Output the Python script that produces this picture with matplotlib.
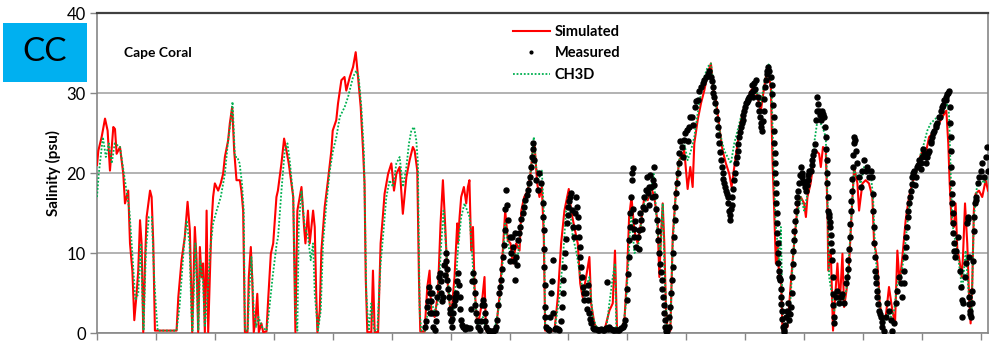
import matplotlib
matplotlib.use("Agg")
from matplotlib import pyplot as plt
from matplotlib.patches import Rectangle
import numpy as np

plt.rcParams["font.family"] = ["Lato", "DejaVu Sans"]

# time axis in years since start of record, salinity in psu
sim_t = [
    0.0, 0.023, 0.079, 0.136, 0.18, 0.22, 0.277, 0.305, 0.333, 0.39, 0.446, 0.475, 0.53, 0.56, 0.6,
    0.633, 0.672, 0.70, 0.73, 0.757, 0.785, 0.814, 0.842, 0.9, 0.927, 0.955, 0.983, 1.35, 1.38, 1.435,
    1.49, 1.537, 1.576, 1.616, 1.66, 1.69, 1.717, 1.746, 1.774, 1.8, 1.83, 1.86, 1.887, 1.94, 1.97,
    2.0, 2.056, 2.1, 2.14, 2.17, 2.226, 2.254, 2.294, 2.328, 2.367, 2.424, 2.45, 2.48, 2.51, 2.554,
    2.576, 2.61, 2.633, 2.66, 2.69, 2.72, 2.746, 2.79, 2.82, 2.876, 2.904, 2.95, 2.99, 3.045,
    3.07, 3.13, 3.175, 3.215, 3.254, 3.3, 3.33, 3.367, 3.4, 3.47, 3.514, 3.537, 3.58, 3.61, 3.667,
    3.695, 3.72, 3.74, 3.78, 3.808, 3.864, 3.92, 3.977, 4.0, 4.06, 4.09, 4.147, 4.2, 4.23, 4.29,
    4.345, 4.39, 4.43, 4.475, 4.515, 4.54, 4.56, 4.587, 4.655, 4.683, 4.712, 4.77, 4.813, 4.85, 4.88,
    4.94, 4.995, 5.04, 5.08, 5.136, 5.19, 5.25, 5.305, 5.36, 5.39, 5.435, 5.463, 5.486, 5.56, 5.605,
    5.644, 5.672, 5.73, 5.785, 5.83, 5.87, 5.91, 5.955, 6.01, 6.067, 6.113,
    6.124, 6.153, 6.18, 6.226, 6.266, 6.294, 6.32, 6.35, 6.38, 6.407, 6.45, 6.49, 6.53, 6.576, 6.6,
    6.69, 6.774, 6.83, 6.887, 6.927, 6.972, 7.017, 7.057, 7.113, 7.17, 7.2, 7.25, 7.31, 7.356, 7.395,
    7.424, 7.47, 7.508, 7.55, 7.582, 7.605, 7.763, 7.82, 7.876, 7.932, 8.006, 8.045, 8.1, 8.158, 8.2,
    8.24, 8.3, 8.356, 8.385, 8.44, 8.5, 8.61, 8.695, 8.752, 8.79, 8.825, 8.893, 8.95, 8.994, 9.03,
    9.07, 9.118, 9.175, 9.23, 9.288, 9.345, 9.4, 9.458, 9.514, 9.543, 9.57, 9.6, 9.627, 9.656, 9.684,
    9.73, 9.77, 9.825, 9.88, 9.966, 9.995, 10.023, 10.068, 10.108, 10.136, 10.193, 10.249, 10.305, 10.362, 10.418,
    10.463, 10.503, 10.56, 10.616, 10.672, 10.729, 10.768, 10.814, 10.87, 10.927, 10.983, 11.04, 11.096, 11.153, 11.21,
    11.266, 11.322, 11.379, 11.435, 11.463, 11.492, 11.52, 11.548, 11.576, 11.605, 11.633, 11.718, 11.774, 11.83, 11.886,
    11.943, 12.0, 12.03, 12.056, 12.11, 12.17, 12.198, 12.254, 12.283, 12.32, 12.367, 12.396, 12.41, 12.452, 12.49,
    12.526, 12.565, 12.605, 12.65, 12.678, 12.718, 12.763, 12.808, 12.848, 12.904, 12.932, 12.989, 13.045, 13.1, 13.158,
    13.187, 13.215, 13.243, 13.283, 13.328, 13.384, 13.44, 13.497, 13.542, 13.582, 13.62, 13.667, 13.723, 13.78, 13.836,
    13.893, 13.95, 14.006, 14.062, 14.12, 14.175, 14.232, 14.288, 14.345, 14.413, 14.446, 14.47, 14.503, 14.543, 14.57,
    14.6, 14.628, 14.673, 14.695, 14.73, 14.768, 14.797, 14.825, 14.853, 14.88, 14.91, 14.966, 15.022, 15.08, 15.12,
]
sim_v = [
    21.0, 22.8, 24.5, 26.8, 25.3, 20.3, 25.75, 25.5, 22.4, 23.25, 19.9, 16.2, 17.8, 11.2, 7.8,
    1.6, 4.9, 7.8, 14.1, 11.2, 0.1, 8.7, 14.5, 17.8, 17.0, 11.2, 0.3, 0.3, 4.5, 9.1,
    12.0, 16.4, 12.8, 0.1, 13.25, 9.1, 0.1, 10.75, 7.0, 8.7, 0.1, 15.3, 0.1, 13.25, 17.0,
    18.7, 17.8, 18.7, 19.9, 22.0, 24.1, 26.2, 28.25, 22.8, 19.1, 19.1, 17.8, 15.3, 0.1, 0.1,
    7.0, 10.75, 7.0, 0.1, 1.6, 4.9, 0.1, 1.2, 0.1, 0.2, 4.1, 9.9, 11.2, 17.0,
    17.8, 21.2, 24.3, 22.8, 21.2, 18.7, 17.0, 0.1, 15.3, 18.25, 13.25, 11.2, 15.3, 11.2, 15.3,
    13.25, 4.9, 0.1, 2.8, 10.3, 15.75, 19.1, 22.8, 25.3, 26.6, 28.7, 31.6, 32.0, 30.3, 32.0,
    33.25, 35.1, 32.0, 28.25, 22.8, 18.7, 7.0, 0.1, 0.1, 7.8, 0.1, 0.1, 11.2, 14.5, 17.4,
    19.9, 21.2, 17.8, 19.9, 20.75, 14.9, 19.5, 21.6, 23.25, 22.8, 20.3, 7.0, 0.2, 0.2, 5.75,
    7.8, 2.8, 2.0, 4.9, 13.7, 19.1, 13.25, 5.75, 2.0, 7.0, 13.7,
    11.2, 14.5, 17.0, 18.25, 16.2, 18.25, 19.1, 10.3, 13.25, 5.75, 1.2, 2.0, 3.7, 7.0, 0.3,
    0.2, 0.75, 4.5, 10.3, 15.3, 11.6, 11.2, 8.7, 11.2, 10.3, 15.3, 17.0, 17.8, 19.9, 22.8,
    23.7, 18.7, 17.0, 18.25, 12.0, 0.3, 0.3, 4.5, 11.2, 15.3, 18.0, 15.3, 13.25, 11.2, 6.2,
    4.5, 7.0, 9.5, 3.7, 1.2, 0.3, 0.3, 2.8, 3.7, 10.3, 0.3, 0.3, 1.6, 7.0, 14.5,
    17.0, 12.8, 11.2, 13.7, 17.0, 16.6, 18.25, 17.0, 13.7, 7.0, 12.0, 16.2, 11.2, 2.8, 0.3,
    0.3, 12.0, 17.8, 21.6, 22.8, 20.3, 18.0, 20.75, 18.25, 23.7, 26.6, 28.7, 30.3, 32.4, 33.7,
    30.3, 29.1, 25.75, 22.8, 21.2, 19.9, 18.25, 20.75, 23.7, 26.6, 28.25, 29.1, 30.3, 30.75, 29.5,
    27.8, 30.75, 33.25, 30.75, 21.6, 15.3, 8.7, 11.2, 7.0, 7.8, 0.3, 0.75, 6.2, 11.2, 15.75,
    17.0, 16.2, 14.5, 17.0, 18.7, 22.0, 22.8, 22.4, 20.75, 23.25, 22.8, 15.3, 7.8, 10.3, 0.3,
    4.5, 8.7, 3.7, 9.9, 3.25, 5.3, 8.7, 15.3, 20.75, 18.7, 15.3, 18.7, 19.1, 18.7, 17.0,
    11.2, 10.3, 8.7, 3.7, 1.6, 2.0, 5.75, 2.8, 1.2, 10.3, 6.2, 9.5, 14.1, 17.0, 18.7,
    19.9, 21.6, 22.8, 22.4, 24.5, 24.9, 25.3, 26.2, 27.0, 27.8, 23.7, 18.7, 13.7, 13.25, 16.2,
    10.3, 9.5, 7.0, 9.5, 16.2, 11.2, 4.9, 1.2, 6.2, 15.3, 17.4, 17.8, 17.0, 19.1, 17.8,
]

# measured record, first pass along the main trace
meas_t = [
    5.56, 5.599, 5.633, 5.656, 5.678, 5.7, 5.729, 5.757, 5.786, 5.814, 5.842, 5.87, 5.927, 5.944, 5.972,
    5.995, 6.017, 6.04, 6.068, 6.096, 6.125, 6.153, 6.18, 6.21, 6.266, 6.322, 6.379, 6.407, 6.435, 6.464,
    6.492, 6.548, 6.577, 6.605, 6.633, 6.69, 6.746, 6.786, 6.82, 6.848, 6.887, 6.916, 6.944, 6.972, 7.0,
    7.029, 7.057, 7.085, 7.113, 7.14, 7.181, 7.226, 7.271, 7.311, 7.351, 7.385, 7.407, 7.424, 7.452, 7.48,
    7.509, 7.537, 7.565, 7.582, 7.593, 7.605, 7.622, 7.678, 7.706, 7.735, 7.746, 7.791, 7.848, 7.887, 7.916,
    7.944, 7.972, 8.0, 8.029, 8.063, 8.085, 8.113, 8.142, 8.17, 8.193, 8.215, 8.243, 8.271, 8.3, 8.328,
    8.356, 8.385, 8.413, 8.469, 8.525, 8.582, 8.64, 8.656, 8.695, 8.752, 8.808, 8.865, 8.921, 8.966, 8.989,
    9.012, 9.034, 9.051, 9.074, 9.091, 9.119, 9.147, 9.176, 9.204, 9.232, 9.26, 9.288, 9.317, 9.345, 9.373,
    9.402, 9.43, 9.447, 9.47, 9.498, 9.526, 9.554, 9.582, 9.61, 9.627, 9.645, 9.673, 9.701, 9.729, 9.757,
    9.78, 9.803, 9.825, 9.854, 9.882, 9.927, 9.966, 10.006, 10.051, 10.096, 10.153, 10.192,
    10.221, 10.249, 10.277, 10.305, 10.334, 10.362, 10.39, 10.418, 10.447, 10.475, 10.503, 10.531, 10.56, 10.588, 10.616,
    10.644, 10.673, 10.701, 10.729, 10.746, 10.769, 10.803, 10.842, 10.87, 10.899, 10.927, 10.955, 10.983, 11.012, 11.04,
    11.068, 11.096, 11.125, 11.153, 11.181, 11.21, 11.238, 11.266, 11.283, 11.311, 11.334, 11.362, 11.379, 11.407, 11.435,
    11.463, 11.48, 11.492, 11.503, 11.515, 11.526, 11.537, 11.548, 11.56, 11.576, 11.593, 11.605, 11.622, 11.639, 11.661,
    11.69, 11.718, 11.746, 11.774, 11.797, 11.814, 11.83, 11.859, 11.887, 11.915, 11.944, 11.972, 12.0, 12.029, 12.057,
    12.085, 12.113, 12.141, 12.17, 12.198, 12.226, 12.254, 12.283, 12.311, 12.339, 12.367, 12.384, 12.396, 12.407, 12.424,
    12.441, 12.458, 12.48, 12.492, 12.503, 12.514, 12.537, 12.565, 12.593, 12.622, 12.65, 12.678, 12.706, 12.735, 12.752,
    12.774, 12.791, 12.808, 12.825, 12.842, 12.865, 12.887, 12.904, 12.932, 12.96, 12.989, 13.017, 13.045, 13.074, 13.102,
    13.13, 13.158, 13.17, 13.187, 13.204, 13.226, 13.243, 13.271, 13.3, 13.328, 13.356, 13.384, 13.413, 13.441, 13.469,
    13.497, 13.526, 13.554, 13.582, 13.61, 13.639, 13.667, 13.695, 13.712, 13.735, 13.757, 13.78, 13.808, 13.836, 13.865,
    13.893, 13.921, 13.949, 13.978, 14.006, 14.034, 14.062, 14.09, 14.119, 14.147, 14.175, 14.204, 14.232, 14.26, 14.288,
    14.316, 14.345, 14.373, 14.401, 14.43, 14.458, 14.48, 14.492, 14.503, 14.514, 14.525, 14.542, 14.56, 14.582, 14.616,
    14.639, 14.656, 14.673, 14.684, 14.7, 14.729, 14.752, 14.768, 14.785, 14.797, 14.814, 14.831, 14.853, 14.876, 14.898,
    14.921, 14.944, 14.966, 14.994, 15.023, 15.051, 15.079, 15.096, 15.119,
]
meas_v = [
    0.8, 3.3, 5.8, 2.5, 5.0, 0.8, 0.4, 2.5, 5.8, 7.5, 5.0, 4.5, 10.0, 6.6, 4.5,
    2.5, 0.8, 2.5, 4.1, 5.0, 7.5, 4.5, 1.6, 0.8, 0.8, 0.6, 7.5, 5.0, 2.5, 0.8,
    0.4, 4.1, 2.5, 0.8, 0.4, 0.2, 0.4, 1.6, 5.0, 6.6, 9.5, 12.9, 17.9, 14.1, 12.0,
    10.0, 10.8, 6.6, 9.5, 11.6, 13.3, 15.0, 16.6, 17.9, 19.5, 22.0, 23.7, 21.6, 19.1, 17.9,
    20.0, 18.7, 16.2, 12.9, 8.3, 3.3, 0.8, 0.4, 5.0, 9.1, 2.5, 0.6, 0.4, 3.3, 6.6,
    10.0, 13.7, 15.8, 17.0, 15.4, 13.3, 15.0, 15.8, 13.3, 10.8, 8.3, 5.8, 4.1, 5.0, 4.1,
    2.5, 1.2, 0.6, 0.5, 0.4, 0.4, 0.6, 6.4, 0.8, 0.4, 0.4, 0.4, 0.8, 1.6, 4.1,
    7.4, 11.6, 15.0, 19.1, 20.6, 12.0, 10.8, 12.0, 12.9, 14.1, 15.8, 17.0, 17.9, 17.5, 18.3,
    18.3, 19.1, 20.8, 17.1, 14.1, 11.6, 8.6, 6.6, 4.5, 2.5, 0.8, 0.2, 0.8, 3.3, 6.6,
    10.0, 14.1, 17.5, 20.0, 22.5, 23.3, 24.1, 25.4, 25.8, 27.0, 28.3, 29.1,
    30.3, 30.75, 31.2, 31.6, 32.0, 32.4, 32.8, 32.0, 30.75, 29.5, 27.8, 25.75, 23.7, 21.6, 20.0,
    18.7, 17.8, 17.0, 15.3, 14.1, 17.0, 19.1, 21.2, 22.8, 24.5, 25.75, 26.6, 27.8, 28.7, 29.1,
    29.5, 30.0, 30.3, 31.2, 31.6, 29.5, 27.8, 26.2, 25.3, 27.8, 30.75, 32.4, 33.25, 32.8, 32.0,
    29.9, 27.0, 23.7, 21.2, 18.7, 16.2, 13.7, 11.2, 8.7, 7.0, 6.6, 4.5, 2.8, 0.75, 0.1,
    2.0, 3.7, 1.6, 3.25, 7.0, 10.3, 12.8, 15.3, 17.0, 18.7, 20.75, 19.5, 18.7, 17.8, 19.1,
    20.3, 20.3, 21.6, 22.8, 26.6, 29.5, 27.8, 26.6, 27.8, 27.0, 24.5, 21.6, 18.7, 15.3, 14.5,
    13.25, 11.2, 9.1, 4.9, 2.0, 1.2, 4.5, 5.3, 3.7, 4.5, 4.9, 3.7, 6.2, 7.0, 9.1,
    12.0, 15.3, 17.8, 20.75, 23.7, 24.1, 22.8, 21.2, 19.5, 18.25, 20.3, 21.6, 20.3, 20.75, 19.5,
    20.3, 19.5, 15.3, 11.2, 7.8, 6.2, 4.5, 2.8, 2.0, 0.75, 0.3, 2.0, 3.7, 2.8, 1.6,
    0.3, 1.2, 3.7, 5.3, 7.0, 6.2, 4.5, 6.2, 9.5, 12.0, 14.5, 16.2, 17.8, 19.5, 20.3,
    19.5, 20.75, 21.6, 21.2, 22.0, 22.4, 21.2, 22.0, 22.8, 23.7, 24.5, 25.3, 25.75, 26.2, 27.0,
    27.8, 28.25, 29.1, 29.1, 29.9, 30.3, 26.2, 22.8, 18.7, 16.2, 13.7, 11.2, 9.5, 10.3, 12.0,
    7.8, 5.75, 4.1, 2.0, 3.7, 7.0, 8.7, 13.7, 14.5, 4.5, 2.8, 2.0, 5.3, 12.8, 16.2,
    17.0, 18.7, 19.5, 20.3, 21.2, 19.5, 22.0, 23.25, 20.3,
]

# measured record, second pass: scatter around the trace and steep limbs
meas_t2 = [
    5.59, 5.62, 5.645, 5.665, 5.69, 5.745, 5.77, 5.8, 5.83, 5.855, 5.885, 5.9, 5.915, 5.935, 5.958,
    5.985, 6.005, 6.03, 6.055, 6.082, 6.11, 6.14, 6.165, 6.195, 6.24, 6.29, 6.35, 6.365, 6.392, 6.42,
    6.45, 6.52, 6.535, 6.562, 6.59, 6.66, 6.72, 6.77, 6.8, 6.835, 6.868, 6.9, 6.93, 6.958,
    7.01, 7.04, 7.07, 7.1, 7.13, 7.16, 7.2, 7.25, 7.29, 7.33, 7.37, 7.397,
    7.575, 7.588, 7.598, 7.61, 7.65, 7.69, 7.72, 7.765, 7.82, 7.87, 7.9, 7.93, 7.958, 7.986, 8.015,
    8.05, 8.1, 8.13, 8.155, 8.18, 8.204, 8.23, 8.26, 8.31, 8.34, 8.37,
    8.44, 8.5, 8.55, 8.61, 8.67, 8.72, 8.78, 8.84, 8.89, 8.94,
    9.0, 9.022, 9.043, 9.062, 9.082, 9.1, 9.11, 9.13, 9.19, 9.22, 9.25, 9.3, 9.33, 9.36, 9.39,
    9.42, 9.46, 9.484, 9.512, 9.54, 9.568, 9.596, 9.618, 9.636, 9.66, 9.715, 9.743, 9.77, 9.79, 9.814,
    9.84, 9.868, 9.9, 9.95, 9.98, 10.03, 10.07, 10.12, 10.17,
    10.433, 10.461, 10.489, 10.517, 10.545, 10.574, 10.602, 10.63, 10.658, 10.687, 10.715, 10.738, 10.757, 10.78,
    10.786, 10.82, 10.856, 10.884, 10.913, 10.94, 10.97, 10.998, 11.026, 11.054, 11.11, 11.14, 11.17,
    11.224, 11.252, 11.275, 11.297, 11.322, 11.348, 11.37,
    11.449, 11.471, 11.486, 11.498, 11.509, 11.52, 11.531, 11.543, 11.554, 11.568, 11.585, 11.6, 11.614, 11.63, 11.65,
    11.675, 11.704, 11.732, 11.76, 11.786, 11.806, 11.822, 11.845, 11.873, 11.9, 11.93, 11.958, 11.986, 12.015, 12.043,
    12.07, 12.1, 12.127, 12.155, 12.184, 12.212, 12.24, 12.268, 12.297, 12.325, 12.353, 12.375, 12.39, 12.402,
    12.415, 12.432, 12.45, 12.469, 12.486, 12.498, 12.743, 12.763, 12.782, 12.8, 12.817, 12.834, 12.853,
    13.164, 13.178, 13.195, 13.215, 13.235, 13.257, 13.285, 13.314,
    13.703, 13.724, 13.746, 13.768, 13.794, 13.822, 13.85, 13.88, 13.935, 13.99, 14.02, 14.075, 14.105, 14.16, 14.19,
    14.245, 14.3, 14.36, 14.415, 14.444, 14.469, 14.486, 14.497, 14.508, 14.52, 14.533, 14.55,
    14.776, 14.79, 14.806, 14.822, 14.842, 14.864, 14.887, 14.91,
]
meas_v2 = [
    1.5, 4.0, 5.0, 4.0, 2.5, 1.5, 4.5, 7.0, 6.5, 4.0, 8.5, 7.2, 9.0, 8.0, 5.5,
    3.0, 1.5, 1.8, 3.5, 4.5, 6.5, 6.0, 3.0, 1.0, 0.5, 0.6, 3.0, 6.5, 6.5, 3.5,
    1.5, 1.5, 3.5, 3.5, 1.5, 0.3, 0.3, 0.8, 3.5, 5.8, 8.0, 11.0, 15.5, 16.0,
    9.0, 12.0, 9.0, 12.5, 8.5, 12.5, 14.2, 15.8, 17.2, 18.7, 20.8, 23.0,
    14.5, 10.5, 6.0, 2.0, 0.5, 2.0, 6.5, 0.5, 0.5, 1.5, 5.0, 8.3, 11.8, 14.8, 16.5,
    17.5, 12.0, 17.0, 14.5, 12.0, 9.5, 7.0, 5.0, 3.0, 6.0, 1.8,
    0.5, 0.4, 0.5, 0.4, 0.5, 0.5, 0.4, 0.4, 0.6, 1.0,
    5.5, 9.5, 13.3, 17.0, 20.0, 15.5, 13.0, 14.0, 10.5, 15.0, 13.0, 15.5, 19.5, 16.0, 19.8,
    17.0, 18.5, 15.5, 12.8, 10.0, 7.6, 5.5, 3.5, 1.6, 0.3, 2.0, 5.0, 8.3, 12.0, 15.8,
    18.8, 21.2, 24.0, 22.0, 25.0, 24.0, 27.0, 26.0, 29.0,
    31.5, 30.0, 28.7, 26.8, 24.7, 22.6, 20.8, 19.3, 18.2, 17.4, 16.2, 14.8, 15.5, 16.0,
    18.0, 20.0, 22.0, 23.6, 25.1, 26.2, 27.2, 28.2, 28.9, 29.3, 31.0, 29.5, 30.5,
    28.6, 27.0, 25.8, 26.5, 29.3, 31.6, 32.8,
    31.0, 28.5, 25.3, 22.5, 20.0, 17.5, 15.0, 12.5, 10.0, 7.8, 6.8, 5.5, 3.6, 1.8, 0.4,
    1.0, 2.8, 2.6, 2.4, 5.0, 8.6, 11.6, 14.0, 16.2, 17.8, 19.7, 20.0, 19.0, 18.2, 18.5,
    19.7, 20.3, 21.0, 22.2, 23.6, 27.8, 28.6, 27.2, 27.2, 27.4, 25.7, 23.0, 20.0, 17.0,
    14.9, 13.9, 12.2, 10.2, 7.0, 3.5, 8.0, 10.5, 13.6, 16.5, 19.2, 22.2, 24.5,
    17.4, 13.2, 9.5, 7.0, 5.3, 3.6, 2.4, 1.4,
    7.8, 10.8, 13.2, 15.3, 17.0, 18.6, 20.0, 18.5, 21.0, 20.5, 23.0, 22.0, 22.5, 24.0, 25.0,
    26.0, 27.0, 28.5, 29.5, 30.0, 28.2, 24.5, 20.7, 17.4, 15.0, 12.5, 10.3,
    14.2, 9.5, 3.6, 2.4, 3.7, 9.0, 14.5, 16.6,
]

ch3d_t = [
    0.0, 0.03, 0.1, 0.15, 0.2, 0.25, 0.3, 0.39, 0.45, 0.5, 0.55, 0.6, 0.65, 0.7, 0.74,
    0.79, 0.83, 0.88, 0.93, 0.97, 1.0, 1.03, 1.35, 1.4, 1.47, 1.52, 1.57, 1.6, 1.62, 1.67,
    1.72, 1.75, 1.8, 1.83, 1.88, 1.92, 1.97, 2.03, 2.1, 2.17, 2.22, 2.27, 2.3, 2.34, 2.38,
    2.42, 2.46, 2.49, 2.51, 2.56, 2.58, 2.62, 2.66, 2.7, 2.74, 2.8, 2.88, 2.92, 2.98, 3.05,
    3.073, 3.13, 3.186, 3.232, 3.27, 3.33, 3.367, 3.4, 3.424, 3.47, 3.525, 3.582, 3.627, 3.667, 3.695,
    3.75, 3.797, 3.836, 3.893, 3.95, 4.006, 4.062, 4.119, 4.203, 4.26, 4.345, 4.4, 4.44, 4.486, 4.53,
    4.57, 4.61, 4.655, 4.7, 4.757, 4.813, 4.853, 4.91, 4.966, 5.023, 5.08, 5.136, 5.192, 5.25, 5.294,
    5.334, 5.38, 5.418, 5.446, 5.475, 5.503, 5.57, 5.616, 5.672, 5.73, 5.785, 5.842, 5.88, 5.927, 5.983,
    6.04, 6.096, 6.124, 6.18, 6.237, 6.283, 6.322, 6.362, 6.407, 6.463, 6.548, 6.605, 6.746, 6.83, 6.887,
    6.927, 6.972, 7.028, 7.085, 7.141, 7.198, 7.254, 7.311, 7.368, 7.412, 7.452, 7.509, 7.548, 7.582, 7.605,
    7.763, 7.848, 7.904, 7.96, 8.017, 8.074, 8.13, 8.187, 8.243, 8.3, 8.356, 8.413, 8.5, 8.64, 8.695,
    8.752, 8.79, 8.814, 8.92, 8.977, 9.017, 9.062, 9.119, 9.175, 9.232, 9.288, 9.345, 9.4, 9.447, 9.486,
    9.526, 9.56, 9.6, 9.627, 9.673, 9.73, 9.77, 9.825, 9.881, 9.955, 10.023, 10.079, 10.136, 10.192, 10.249,
    10.305, 10.362, 10.418, 10.475, 10.531, 10.588, 10.644, 10.701, 10.757, 10.814, 10.87, 10.927, 10.983, 11.04, 11.096,
    11.153, 11.209, 11.266, 11.322, 11.379, 11.407, 11.446, 11.48, 11.515, 11.548, 11.576, 11.605, 11.633, 11.661, 11.746,
    11.785, 11.83, 11.887, 11.943, 12.0, 12.057, 12.113, 12.17, 12.226, 12.254, 12.311, 12.367, 12.396, 12.424, 12.469,
    12.509, 12.565, 12.622, 12.678, 12.735, 12.791, 12.848, 12.904, 12.96, 13.017, 13.074, 13.13, 13.17, 13.204, 13.243,
    13.3, 13.356, 13.413, 13.469, 13.526, 13.582, 13.639, 13.695, 13.751, 13.808, 13.865, 13.921, 13.977, 14.034, 14.09,
    14.147, 14.204, 14.26, 14.316, 14.373, 14.43, 14.458, 14.486, 14.514, 14.57, 14.627, 14.684, 14.74, 14.797, 14.842,
    14.881, 14.938, 14.994, 15.051, 15.12,
]
ch3d_v = [
    17.0, 19.9, 24.5, 22.0, 23.7, 21.2, 23.7, 23.25, 20.3, 17.8, 15.3, 9.9, 4.1, 4.9, 11.2,
    0.3, 10.3, 14.5, 14.5, 7.0, 3.25, 0.3, 0.3, 3.25, 10.3, 14.1, 11.2, 2.8, 0.3, 11.2,
    0.3, 9.1, 6.2, 0.75, 5.3, 10.3, 13.7, 15.3, 17.0, 19.9, 23.7, 26.6, 28.9, 22.0, 22.0,
    21.2, 18.7, 15.3, 0.3, 0.3, 4.9, 9.5, 2.8, 0.75, 2.0, 0.75, 0.3, 2.8, 7.0, 11.2,
    12.0, 17.8, 22.8, 23.7, 21.6, 17.0, 2.8, 0.3, 13.7, 17.8, 13.25, 12.0, 9.1, 11.2, 4.9,
    0.3, 2.8, 11.2, 16.2, 20.3, 22.8, 24.5, 27.0, 28.25, 29.5, 32.0, 32.8, 32.0, 28.25, 22.4,
    4.9, 0.3, 3.7, 0.3, 0.3, 8.7, 12.0, 17.0, 19.1, 18.25, 21.2, 22.0, 18.25, 20.75, 23.7,
    25.3, 25.75, 24.1, 21.2, 2.8, 0.3, 0.3, 2.8, 3.7, 2.8, 3.7, 11.2, 15.3, 10.3, 3.7,
    2.0, 7.0, 10.3, 14.5, 16.2, 15.3, 14.5, 10.3, 4.9, 0.75, 2.0, 0.3, 0.3, 3.7, 9.1,
    13.7, 11.2, 9.5, 9.9, 9.5, 13.7, 16.2, 17.8, 20.75, 24.5, 20.75, 19.5, 20.3, 15.3, 0.75,
    0.3, 4.5, 9.1, 15.3, 16.2, 12.0, 10.3, 7.8, 5.3, 5.75, 7.0, 2.0, 0.3, 0.3, 3.7,
    7.0, 8.7, 0.3, 0.3, 3.7, 8.7, 15.3, 10.0, 10.3, 13.7, 16.2, 17.0, 17.8, 19.9, 15.3,
    11.2, 10.3, 16.2, 8.7, 0.75, 0.75, 11.2, 17.8, 21.6, 24.1, 21.6, 22.8, 24.5, 27.4, 29.9,
    32.0, 33.25, 33.7, 30.3, 26.6, 24.5, 22.8, 22.0, 21.2, 23.7, 25.3, 27.0, 28.25, 29.5, 29.9,
    30.3, 29.9, 28.7, 31.2, 33.25, 33.7, 30.75, 21.6, 13.7, 11.2, 8.7, 13.25, 2.8, 0.3, 1.6,
    6.2, 11.2, 14.9, 17.0, 15.3, 17.4, 19.9, 23.7, 26.6, 26.6, 25.75, 24.5, 17.0, 7.0, 4.9,
    2.8, 3.7, 4.5, 4.1, 6.2, 13.25, 20.3, 19.5, 18.7, 20.75, 20.75, 19.9, 17.0, 10.3, 7.0,
    2.8, 1.2, 2.4, 2.0, 2.8, 6.2, 7.0, 9.5, 13.7, 17.0, 19.5, 20.3, 22.4, 23.7, 25.3,
    26.2, 26.6, 27.0, 27.4, 27.8, 28.7, 27.4, 20.3, 13.7, 11.2, 8.7, 5.3, 10.3, 4.5, 2.8,
    14.5, 18.7, 19.5, 18.7, 19.5,
]

year_ticks = np.arange(0, 16)

meas_all_t = np.concatenate([meas_t, meas_t2])
meas_all_v = np.concatenate([meas_v, meas_v2])

fig = plt.figure(figsize=(9.93, 3.44), dpi=100)
ax = fig.add_axes([97 / 993, 11 / 344, 891 / 993, 320 / 344])

# legend order: simulated, measured, CH3D; measured dots drawn on top
ax.plot(sim_t, sim_v, color="#FF0000", lw=1.5, label="Simulated", zorder=3)
ax.plot(meas_all_t, meas_all_v, ls="none", marker="o", ms=3.6, mfc="black", mec="black",
        label="Measured", zorder=5)
ax.plot(ch3d_t, ch3d_v, color="#00B050", lw=1.3, ls=(0, (1, 1)), label="CH3D", zorder=4)

ax.set_xlim(0, 15.12)
ax.set_ylim(0, 40)
ax.set_yticks([0, 10, 20, 30, 40])
ax.set_xticks(year_ticks)
ax.set_xticklabels([])
ax.tick_params(axis="y", direction="out", length=5, width=1, color="#868686",
               labelsize=12, pad=3)
ax.tick_params(axis="x", direction="out", length=5, width=1, color="#868686")
ax.grid(axis="y", color="#a6a6a6", lw=1.2, zorder=0)
ax.set_axisbelow(True)

for side in ["left", "right", "bottom"]:
    ax.spines[side].set_color("#868686")
    ax.spines[side].set_linewidth(1.2)
ax.spines["top"].set_color("#404040")
ax.spines["top"].set_linewidth(1.6)

ax.set_ylabel("Salinity (psu)", fontsize=11, fontweight="bold", labelpad=4)

ax.text(0.03, 0.875, "Cape Coral", transform=ax.transAxes, fontsize=10,
        fontweight="bold", va="center", ha="left")

leg = ax.legend(loc="upper left", bbox_to_anchor=(0.467, 0.962), frameon=False,
                fontsize=10.5, handlelength=2.5, handletextpad=0.35,
                labelspacing=0.5, borderpad=0, borderaxespad=0, markerscale=0.55)
for txt in leg.get_texts():
    txt.set_fontweight("bold")

# site tag in the top-left corner
fig.patches.append(Rectangle((3 / 993, (344 - 82) / 344), 84 / 993, 59 / 344,
                             transform=fig.transFigure, facecolor="#00B0F0",
                             edgecolor="none"))
fig.text(45 / 993, (344 - 52) / 344, "CC", fontsize=24, ha="center", va="center")

fig.savefig("out.png", dpi=100)
